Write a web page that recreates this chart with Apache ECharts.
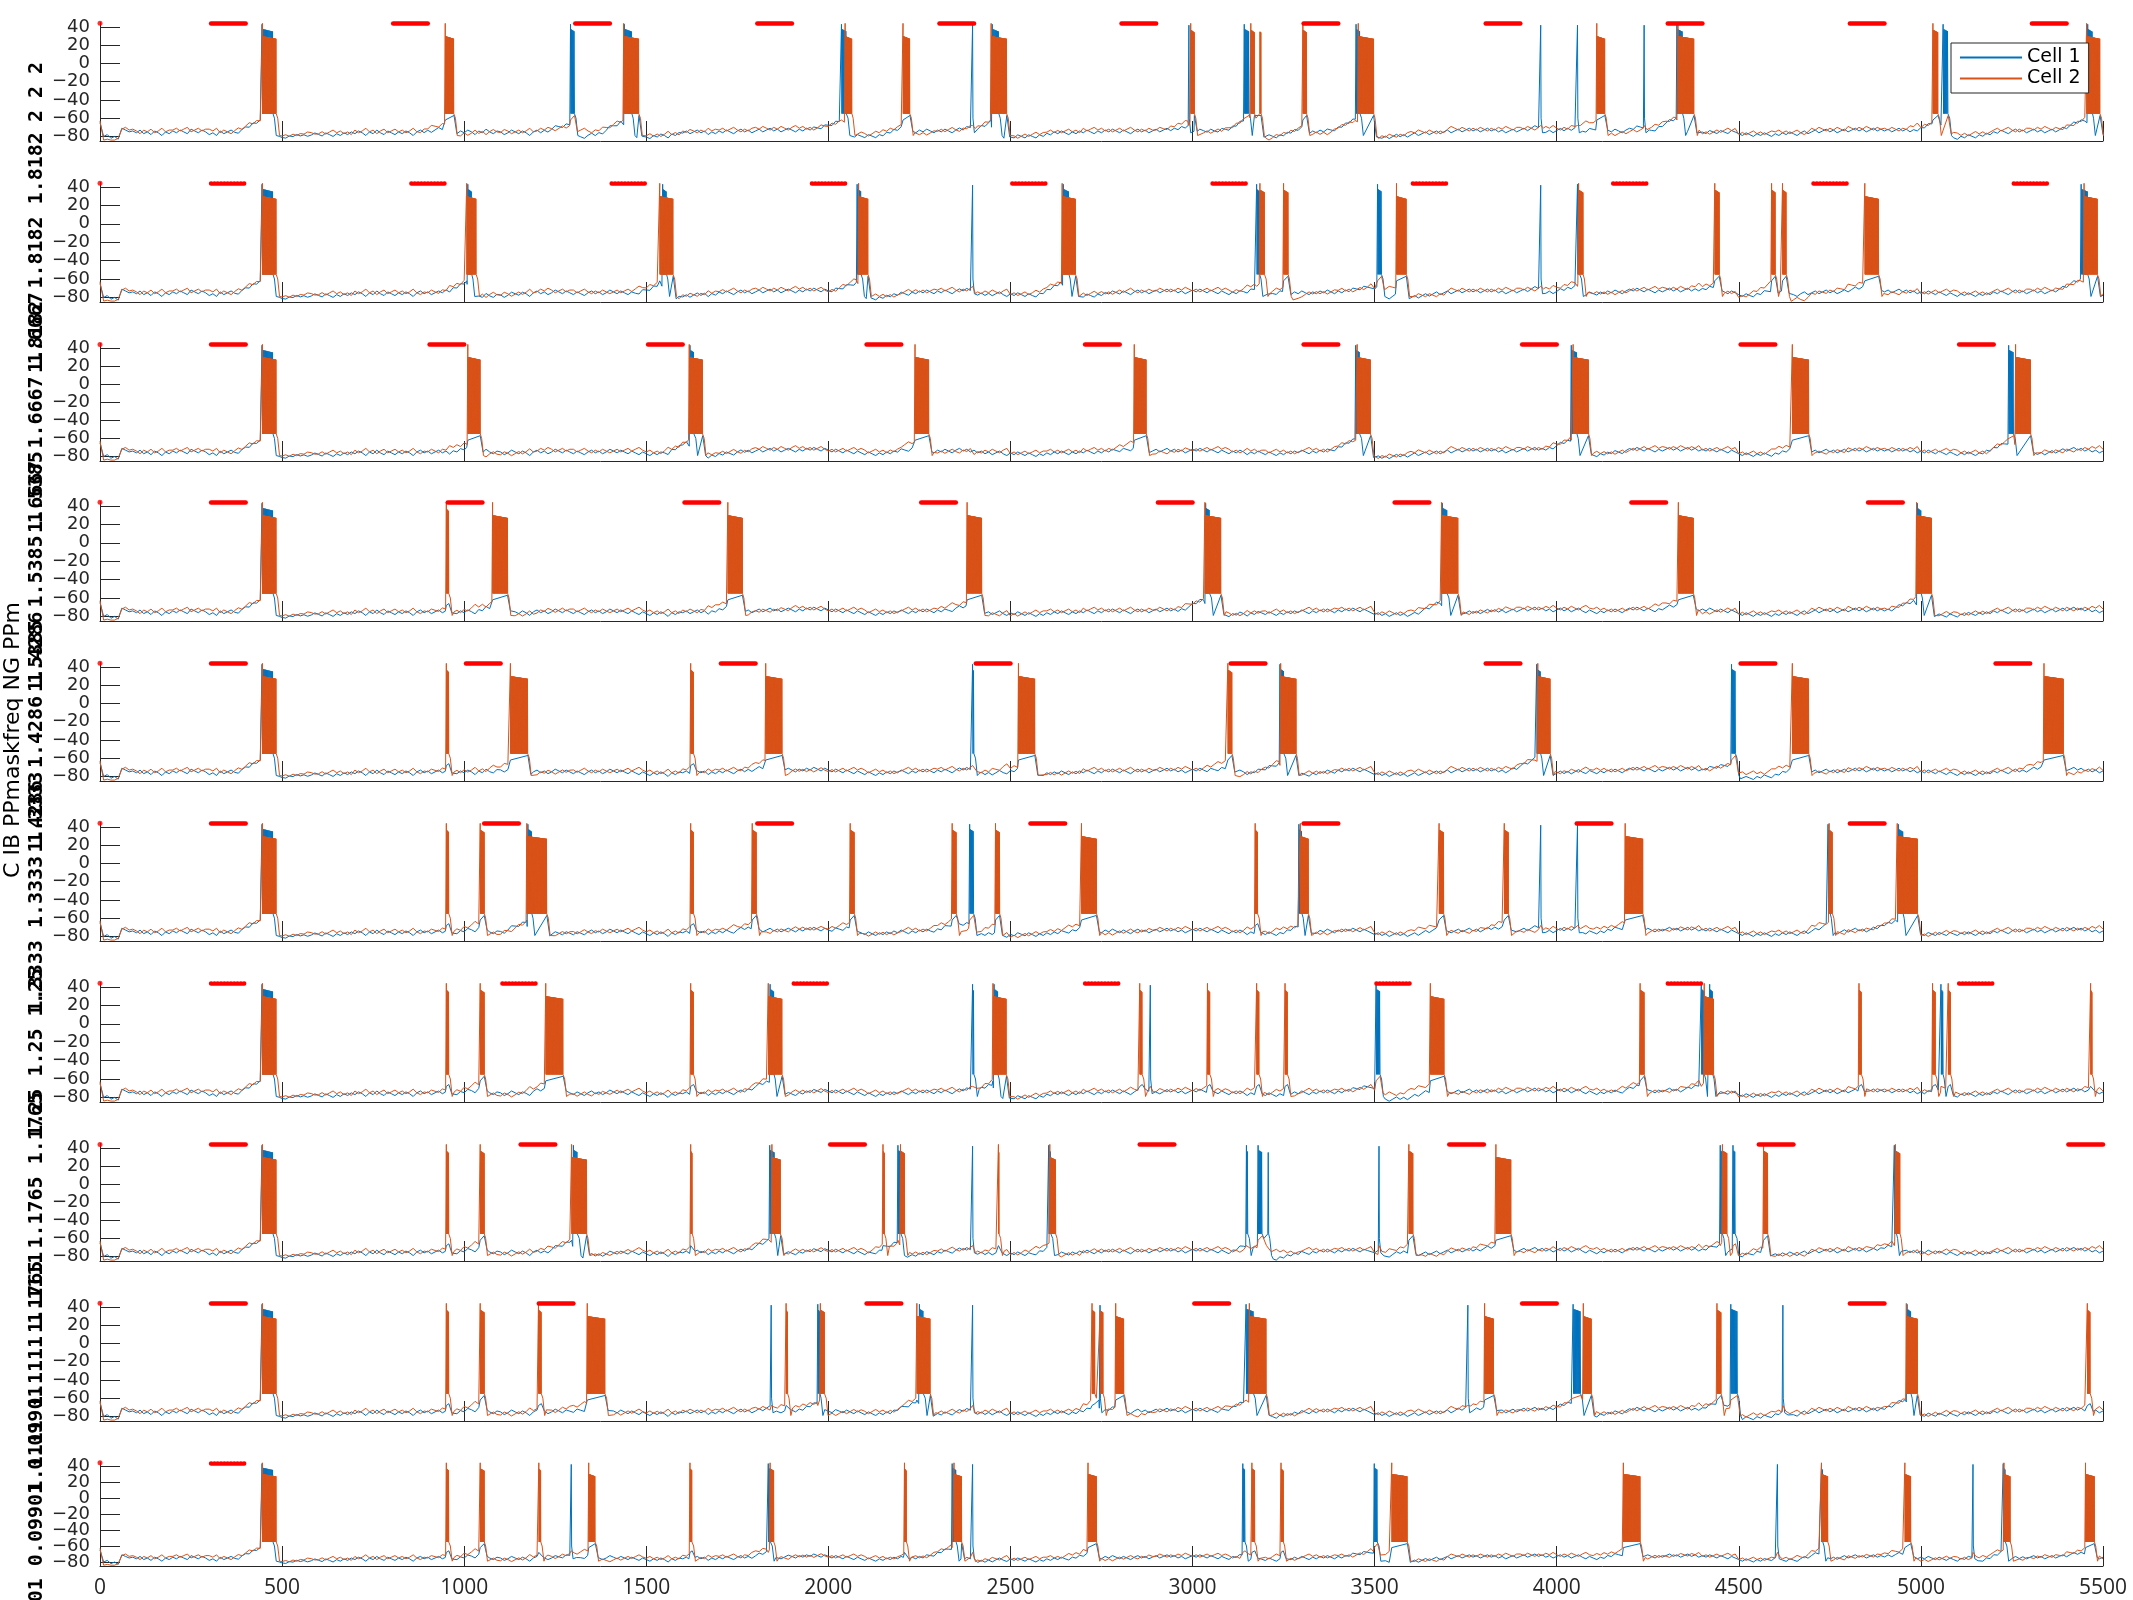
<!DOCTYPE html>
<html><head><meta charset="utf-8">
<script src="https://cdn.jsdelivr.net/npm/echarts@6/dist/echarts.min.js"></script>
<style>html,body{margin:0;padding:0;background:#fff}#c{width:2133px;height:1600px}</style>
</head><body><div id="c"></div>
<script>
// ---------------- DATA ----------------
const STEP = 10; // ms between baseline samples
const baseCell1 = [
-65,-80,-78,-82,-80,-83,-71,-73,-75,-74,
-76,-73,-77,-75,-78,-74,-76,-79,-75,-77,
-74,-76,-73,-75,-77,-72,-74,-76,-73,-75,
-78,-76,-79,-74,-77,-75,-73,-76,-78,-75,
-74,-76,-73,-75,-73,-74,-72,-74,-73,-75,
-77,-78,-76,-77,-75,-77,-76,-78,-77,-75,
-77,-79,-76,-78,-80,-77,-79,-76,-78,-75,
-77,-74,-76,-79,-75,-77,-73,-76,-78,-74,
-76,-78,-75,-77,-74,-76,-79,-75,-73,-76,
-74,-77,-75,-73,-76,-74,-78,-75,-77,-74,
-76,-73,-75,-78,-74,-76,-72,-75,-77,-74,
-75,-78,-76,-73,-75,-77,-74,-76,-79,-75,
-73,-76,-74,-77,-75,-72,-74,-76,-73,-75,
-77,-74,-76,-78,-75,-73,-76,-74,-77,-75,
-72,-74,-76,-73,-75,-77,-74,-76,-78,-75,
-77,-79,-76,-78,-75,-77,-80,-76,-78,-75,
-76,-74,-77,-75,-73,-76,-74,-78,-75,-77,
-74,-76,-73,-75,-77,-74,-72,-75,-73,-76,
-74,-72,-75,-73,-71,-74,-72,-75,-73,-71,
-73,-75,-72,-74,-71,-73,-70,-72,-74,-71,
-73,-75,-72,-74,-76,-73,-75,-77,-74,-76,
-78,-75,-77,-79,-76,-78,-75,-77,-74,-76,
-73,-75,-77,-74,-76,-73,-75,-72,-74,-76,
-73,-75,-72,-74,-76,-73,-71,-74,-72,-75,
-73,-76,-74,-77,-75,-78,-76,-74,-77,-79,
-76,-78,-75,-77,-79,-76,-78,-80,-77,-79,
-76,-78,-75,-77,-74,-76,-78,-75,-77,-74,
-76,-73,-75,-77,-74,-76,-73,-75,-72,-74,
-76,-73,-75,-77,-74,-72,-75,-73,-76,-74,
-72,-75,-73,-71,-74,-72,-75,-73,-76,-74,
-72,-74,-71,-73,-75,-72,-74,-76,-73,-75,
-77,-74,-76,-73,-75,-78,-75,-77,-74,-76,
-78,-75,-77,-79,-76,-78,-75,-77,-74,-76,
-73,-75,-77,-74,-76,-73,-75,-72,-74,-76,
-73,-75,-72,-74,-71,-73,-75,-72,-74,-76,
-78,-76,-79,-77,-80,-78,-76,-79,-77,-80,
-78,-76,-79,-77,-75,-78,-76,-74,-77,-75,
-73,-76,-74,-72,-75,-73,-71,-74,-72,-75,
-73,-71,-74,-72,-75,-73,-76,-74,-72,-75,
-73,-71,-74,-72,-70,-73,-71,-74,-72,-75,
-73,-71,-74,-72,-75,-73,-71,-74,-76,-73,
-75,-77,-74,-76,-73,-75,-72,-74,-76,-73,
-71,-73,-70,-72,-74,-71,-73,-75,-72,-74,
-72,-70,-73,-71,-74,-72,-70,-73,-71,-74,
-72,-74,-71,-73,-75,-72,-74,-76,-73,-75,
-77,-79,-76,-78,-80,-77,-79,-76,-78,-80,
-77,-79,-76,-78,-75,-77,-79,-76,-74,-77,
-75,-73,-76,-74,-72,-75,-73,-76,-74,-72,
-75,-73,-71,-74,-72,-75,-73,-71,-74,-72,
-74,-72,-75,-73,-71,-74,-72,-75,-73,-76,
-74,-76,-73,-75,-77,-74,-76,-78,-75,-77,
-79,-76,-78,-75,-77,-79,-76,-78,-75,-77,
-74,-76,-73,-75,-77,-74,-72,-75,-73,-76,
-74,-72,-75,-73,-76,-74,-72,-75,-73,-71,
-74,-72,-70,-73,-71,-74,-72,-75,-73,-76,
-74];
const baseCell2 = [
-63,-84,-83,-84,-84,-82,-72,-70,-73,-72,
-74,-77,-73,-75,-72,-76,-74,-71,-75,-73,
-73,-71,-74,-72,-70,-75,-73,-71,-74,-72,
-72,-74,-71,-76,-73,-75,-77,-74,-72,-75,
-73,-71,-74,-72,-74,-72,-73,-71,-73,-72,
-75,-74,-76,-74,-76,-74,-75,-73,-74,-76,
-76,-74,-77,-75,-73,-76,-74,-77,-75,-78,
-73,-76,-74,-71,-75,-73,-77,-74,-72,-76,
-74,-72,-75,-73,-76,-74,-71,-75,-77,-74,
-75,-72,-74,-76,-73,-75,-71,-74,-72,-75,
-72,-75,-73,-70,-74,-72,-76,-73,-71,-74,
-75,-72,-74,-77,-75,-73,-76,-74,-71,-75,
-74,-71,-73,-70,-72,-75,-73,-71,-74,-72,
-72,-75,-73,-71,-74,-76,-73,-75,-72,-74,
-76,-74,-72,-75,-73,-71,-74,-72,-70,-73,
-75,-73,-76,-74,-77,-75,-72,-76,-74,-77,
-73,-75,-72,-74,-76,-73,-75,-71,-74,-72,
-73,-71,-74,-72,-70,-73,-75,-72,-74,-71,
-70,-72,-69,-71,-73,-70,-72,-69,-71,-73,
-70,-68,-71,-69,-72,-70,-73,-71,-69,-72,
-74,-72,-75,-73,-71,-74,-72,-70,-73,-71,
-73,-76,-74,-72,-75,-73,-76,-74,-77,-75,
-74,-72,-70,-73,-71,-74,-72,-75,-73,-71,
-72,-70,-73,-71,-69,-72,-74,-71,-73,-70,
-77,-74,-76,-73,-75,-72,-74,-76,-73,-71,
-77,-75,-78,-76,-74,-77,-75,-73,-76,-74,
-74,-72,-75,-73,-76,-74,-72,-75,-73,-76,
-71,-74,-72,-70,-73,-71,-74,-72,-75,-73,
-71,-74,-72,-70,-73,-75,-72,-74,-71,-73,
-73,-70,-72,-74,-71,-73,-70,-72,-69,-71,
-73,-71,-74,-72,-70,-73,-71,-69,-72,-70,
-72,-75,-73,-76,-74,-71,-74,-72,-75,-73,
-73,-76,-74,-72,-75,-73,-76,-74,-77,-75,
-74,-72,-70,-73,-71,-74,-72,-75,-73,-71,
-72,-70,-73,-71,-74,-72,-70,-73,-71,-69,
-76,-78,-75,-77,-74,-76,-78,-75,-77,-74,
-73,-75,-72,-74,-76,-73,-75,-77,-74,-76,
-72,-69,-71,-73,-70,-72,-74,-71,-73,-70,
-72,-74,-71,-73,-70,-72,-69,-71,-73,-70,
-70,-72,-69,-71,-73,-70,-72,-69,-71,-68,
-71,-73,-70,-72,-69,-71,-73,-70,-68,-71,
-72,-70,-73,-71,-74,-72,-75,-73,-71,-74,
-72,-70,-73,-71,-69,-72,-70,-68,-71,-69,
-70,-72,-69,-71,-68,-70,-72,-69,-71,-68,
-73,-71,-74,-72,-70,-73,-71,-69,-72,-70,
-77,-75,-78,-76,-74,-77,-75,-78,-76,-74,
-75,-73,-76,-74,-77,-75,-73,-76,-78,-75,
-71,-73,-70,-72,-74,-71,-73,-70,-72,-74,
-69,-71,-73,-70,-72,-69,-71,-73,-70,-72,
-71,-73,-70,-72,-74,-71,-73,-70,-72,-69,
-75,-73,-76,-74,-72,-75,-73,-71,-74,-72,
-73,-76,-74,-77,-75,-73,-76,-74,-77,-75,
-73,-71,-74,-72,-70,-73,-75,-72,-74,-71,
-71,-73,-70,-72,-69,-71,-73,-70,-72,-74,
-70,-72,-74,-71,-73,-70,-72,-69,-71,-68,
-72];

const freqLabels = ['2','1.8182','1.6667','1.5385','1.4286','1.3333','1.25','1.1765','1.1111','0.09901'];
const bigYLabel = 'C IB PPmaskfreq NG PPm';
const yTickValues = [-80,-60,-40,-20,0,20,40];
const yLabelsA = [-80,-40,0,40];
const yLabelsB = [-60,-20,20];
const stimLevel = 44;      // mV level where the stimulus markers sit
const stimDuration = 100;  // ms
const stimOnsets = [
  [300,800,1300,1800,2300,2800,3300,3800,4300,4800,5300],
  [300,850,1400,1950,2500,3050,3600,4150,4700,5250],
  [300,900,1500,2100,2700,3300,3900,4500,5100],
  [300,950,1600,2250,2900,3550,4200,4850],
  [300,1000,1700,2400,3100,3800,4500,5200],
  [300,1050,1800,2550,3300,4050,4800],
  [300,1100,1900,2700,3500,4300,5100],
  [300,1150,2000,2850,3700,4550,5400],
  [300,1200,2100,3000,3900,4800],
  [300]
];
// spike / burst events [start ms, end ms] per panel
const cell1Events = [
  [[445,475],[1292,1303],[1440,1460],[2036,2050],[2396,2396],[2450,2468],[2990,2990],[3142,3155],[3449,3460],[3956,3956],[4057,4057],[4240,4240],[4330,4345],[5061,5075],[5458,5470]],
  [[445,475],[1010,1020],[1545,1555],[2079,2090],[2396,2396],[2645,2660],[3176,3184],[3508,3519],[3956,3956],[4057,4064],[5440,5458]],
  [[445,475],[1620,1632],[3448,3460],[4040,4055],[5241,5255]],
  [[445,475],[3036,3048],[3686,3700],[4990,5000]],
  [[445,475],[2396,2400],[3240,3252],[3945,3955],[4480,4491]],
  [[445,475],[1175,1185],[2388,2399],[3292,3300],[3956,3956],[4057,4057],[4745,4750],[4938,4950]],
  [[445,475],[1840,1850],[2396,2400],[2455,2465],[2884,2884],[3504,3515],[4397,4405],[4420,4428],[5055,5060]],
  [[445,475],[1300,1312],[1839,1852],[2191,2200],[2396,2396],[2605,2612],[3148,3152],[3180,3192],[3203,3208],[3512,3512],[4449,4455],[4484,4491],[4927,4932]],
  [[445,475],[1843,1843],[1971,1976],[2250,2262],[2396,2396],[2746,2746],[3147,3168],[3756,3756],[4045,4066],[4478,4496],[4621,4621],[4962,4972]],
  [[445,475],[1294,1294],[1835,1842],[2340,2350],[2396,2396],[3138,3144],[3499,3508],[4606,4606],[4727,4730],[5143,5143],[5226,5232]]
];
const cell2Events = [
  [[446,484],[948,972],[1438,1480],[2046,2064],[2205,2224],[2447,2490],[2995,3005],[3160,3170],[3178,3188],[3303,3313],[3455,3497],[4110,4132],[4333,4377],[5033,5047],[5455,5492]],
  [[446,484],[1007,1033],[1537,1574],[2083,2109],[2642,2679],[3185,3198],[3250,3262],[3560,3587],[4060,4072],[4434,4446],[4590,4600],[4620,4630],[4846,4884],[5448,5485]],
  [[446,484],[1010,1044],[1618,1655],[2238,2276],[2840,2873],[3452,3489],[4045,4087],[4647,4692],[5260,5301]],
  [[446,484],[951,958],[1078,1119],[1724,1764],[2381,2421],[3034,3078],[3684,3729],[4334,4375],[4988,5029]],
  [[446,484],[951,958],[1127,1175],[1622,1630],[1828,1873],[2522,2567],[3097,3108],[3242,3284],[3948,3982],[4647,4692],[5338,5391]],
  [[446,484],[951,958],[1044,1055],[1172,1227],[1622,1630],[1791,1802],[2060,2071],[2340,2351],[2459,2470],[2695,2736],[3172,3179],[3296,3318],[3677,3689],[3856,3867],[4188,4236],[4748,4757],[4935,4991]],
  [[446,484],[951,958],[1044,1055],[1224,1272],[1622,1630],[1835,1873],[2452,2489],[2855,2862],[3041,3048],[3176,3183],[3254,3261],[3653,3691],[4229,4240],[4405,4431],[4830,4837],[5032,5040],[5075,5081],[5466,5470]],
  [[446,484],[951,958],[1044,1055],[1295,1336],[1622,1626],[1845,1869],[2150,2154],[2198,2209],[2467,2469],[2608,2624],[3594,3605],[3833,3874],[4455,4468],[4568,4579],[4930,4942]],
  [[446,484],[951,958],[1044,1055],[1204,1212],[1338,1387],[1884,1888],[1978,1990],[2243,2280],[2724,2732],[2743,2754],[2789,2811],[3156,3202],[3802,3827],[4073,4095],[4440,4451],[4960,4990],[5457,5465]],
  [[446,484],[951,958],[1044,1055],[1205,1210],[1342,1360],[1620,1626],[1840,1850],[2209,2214],[2345,2366],[2713,2736],[3163,3171],[3243,3249],[3547,3590],[4183,4229],[4727,4744],[4956,4972],[5228,5245],[5452,5476]]
];

// ---------------- LAYOUT / STYLE ----------------
const y40px   = [27,187,348,506,667,827,987,1148,1307,1466];
const bottomPx= [141,302,461,621,781,941,1102,1261,1421,1566];
const dottedStim = [false,true,false,false,false,false,true,false,false,true];
const C1 = '#0072BD', C2 = '#D95319', AX = '#262626';
const YMIN = -85, YMAX = 45;

// ---------------- TRACE BUILDER ----------------
function baseValue(base, t) {
  const f = Math.max(0, Math.min(base.length - 1, t / STEP));
  const i = Math.floor(f), j = Math.min(base.length - 1, i + 1), w = f - i;
  return base[i] * (1 - w) + base[j] * w;
}
function envelope(t, own, other) {
  let d = 0;
  for (const [s, e] of own) {
    const big = e - s > 8;
    const pre = big ? 80 : 40, amp = big ? 8 : 3;
    if (t < s && t > s - pre) d += amp * (1 - (s - t) / pre);
    const post = big ? 150 : 60, dip = big ? 5 : 2;
    if (t > e && t < e + post) d -= dip * (1 - (t - e) / post);
  }
  for (const [s, e] of other) {
    if (e - s > 8 && t < s && t > s - 60) d += 4 * (1 - (s - t) / 60);
  }
  return d;
}
function buildTrace(base, own, other, isOrange) {
  const val = t => Math.max(-84.5, baseValue(base, t) + envelope(t, own, other));
  const win = own.map(([s, e]) => [s - 2, e + 14]);
  const owin = other.map(([s, e]) => [s - 3, e + 8]);
  const inWin = (t, ws, skip) => ws.some((w, i) => i !== skip && t >= w[0] && t <= w[1]);
  const pts = [];
  for (let i = 0; i < base.length; i++) {
    const t = i * STEP;
    if (!inWin(t, win, -1) && !inWin(t, owin, -1)) pts.push([t, val(t)]);
  }
  const isi = isOrange ? 1.2 : 2.4;
  own.forEach(([s, e], j) => {
    const ev = [[s - 2, val(s - 2)]];
    const dur = e - s;
    if (dur < 2) {
      ev.push([s, 42], [s + 1, -60], [s + 5, -76]);
    } else {
      const p1 = isOrange ? 44 : 43;
      const p2 = isOrange ? (dur > 15 ? 30 : 37) : 38;
      let k = 0;
      for (let t = s; t <= e; t += isi, k++) {
        ev.push([t, k === 0 ? p1 : p2 - 3 * (t - s) / dur], [t + isi / 2, -55]);
      }
      ev.push([e + 4, -60], [e + 9, -79]);
    }
    ev.push([e + 14, val(e + 14)]);
    ev.forEach(p => { if (!inWin(p[0], win, j)) pts.push(p); });
  });
  other.forEach(([s, e], j) => {
    const big = e - s > 8;
    const ev = [[s - 3, val(s - 3)], [s, big ? -62 : -68], [e, big ? -57 : -66], [e + 8, val(e + 8)]];
    ev.forEach(p => { if (!inWin(p[0], win, -1) && !inWin(p[0], owin, j)) pts.push(p); });
  });
  pts.sort((a, b) => a[0] - b[0]);
  return pts;
}

// ---------------- OPTION ----------------
const grids = [], xAxes = [], yAxes = [], series = [], graphics = [];
const labelStyle = { margin: 10, fontSize: 18, fontFamily: 'DejaVu Sans', color: AX,
  hideOverlap: false, showMinLabel: true, showMaxLabel: true,
  formatter: v => String(v).replace('-', '\u2212') };
for (let i = 0; i < 10; i++) {
  const k = (bottomPx[i] - y40px[i]) / (40 - YMIN);
  const top = y40px[i] - (YMAX - 40) * k;
  grids.push({ left: 100, right: 30, top: top, height: bottomPx[i] - top, containLabel: false });
  const last = i === 9;
  xAxes.push({
    gridIndex: i, type: 'value', min: 0, max: 5500, interval: 500,
    axisLine: { show: true, onZero: false, lineStyle: { color: AX, width: 1 } },
    axisTick: { show: true, inside: true, length: 20, lineStyle: { color: AX, width: 1 } },
    axisLabel: { show: last, margin: 12, fontSize: 21, fontFamily: 'Open Sans', color: AX,
      formatter: v => String(v), hideOverlap: false, showMinLabel: true, showMaxLabel: true },
    splitLine: { show: false }
  });
  // main y axis (line, all ticks, half of the labels)
  yAxes.push({
    gridIndex: i, type: 'value', min: YMIN, max: YMAX, position: 'left', offset: 0,
    axisLine: { show: true, onZero: false, lineStyle: { color: AX, width: 1 } },
    axisTick: { show: true, inside: true, length: 20, customValues: yTickValues, lineStyle: { color: AX, width: 1 } },
    axisLabel: Object.assign({ show: true, customValues: yLabelsA }, labelStyle),
    splitLine: { show: false }
  });
  // companion y axis carrying the remaining labels (same scale, same place)
  yAxes.push({
    gridIndex: i, type: 'value', min: YMIN, max: YMAX, position: 'left', offset: 0,
    axisLine: { show: false }, axisTick: { show: false },
    axisLabel: Object.assign({ show: true, customValues: yLabelsB }, labelStyle),
    splitLine: { show: false }
  });
  series.push({
    name: 'Cell 1', type: 'line', xAxisIndex: i, yAxisIndex: 2 * i, symbol: 'none', showSymbol: false,
    data: buildTrace(baseCell1, cell1Events[i], cell2Events[i], false),
    lineStyle: { color: C1, width: 1 }, itemStyle: { color: C1 }, silent: true, animation: false, z: 2,
    emphasis: { disabled: true }
  });
  series.push({
    name: 'Cell 2', type: 'line', xAxisIndex: i, yAxisIndex: 2 * i, symbol: 'none', showSymbol: false,
    data: buildTrace(baseCell2, cell2Events[i], cell1Events[i], true),
    lineStyle: { color: C2, width: 1 }, itemStyle: { color: C2 }, silent: true, animation: false, z: 3,
    emphasis: { disabled: true }
  });
  series.push({
    name: 'stim', type: 'scatter', xAxisIndex: i, yAxisIndex: 2 * i, symbol: 'circle', symbolSize: 5,
    clip: false, data: [[0, stimLevel]], itemStyle: { color: '#ff0000' }, silent: true, animation: false, z: 4,
    markLine: {
      silent: true, animation: false, symbol: ['none', 'none'], label: { show: false },
      lineStyle: { color: '#ff0000', width: 4.5, type: dottedStim[i] ? [0.1, 3.2] : 'solid', cap: 'round', opacity: 1 },
      emphasis: { disabled: true },
      data: stimOnsets[i].map(s => [{ coord: [s + 5, stimLevel] }, { coord: [Math.min(s + stimDuration, 5500), stimLevel] }])
    }
  });
  const cy = (y40px[i] + bottomPx[i]) / 2 + 8;
  graphics.push({
    type: 'text', x: 37, y: cy, rotation: Math.PI / 2, silent: true,
    style: { text: [freqLabels[i], freqLabels[i], freqLabels[i]].join(' '), font: 'bold 20px "DejaVu Sans Mono"',
      fill: '#000', textAlign: 'center', textVerticalAlign: 'middle', verticalAlign: 'middle' }
  });
}
graphics.push({
  type: 'text', x: 13, y: 740, rotation: Math.PI / 2, silent: true,
  style: { text: bigYLabel, font: '22px "DejaVu Sans"', fill: '#000', textAlign: 'center', textVerticalAlign: 'middle', verticalAlign: 'middle' }
});

const chart = echarts.init(document.getElementById('c'), null, { renderer: 'canvas' });
chart.setOption({
  animation: false,
  backgroundColor: '#ffffff',
  textStyle: { fontFamily: 'DejaVu Sans' },
  grid: grids, xAxis: xAxes, yAxis: yAxes, series: series, graphic: graphics,
  legend: {
    data: ['Cell 1', 'Cell 2'], orient: 'vertical', left: 1951, top: 43,
    icon: 'rect', itemWidth: 62, itemHeight: 2, itemGap: 2,
    padding: [5, 8, 5, 9], borderColor: AX, borderWidth: 1, borderRadius: 0, backgroundColor: '#ffffff',
    textStyle: { fontSize: 19, fontFamily: 'DejaVu Sans', color: '#000' }, selectedMode: false
  }
});
</script>
</body></html>
